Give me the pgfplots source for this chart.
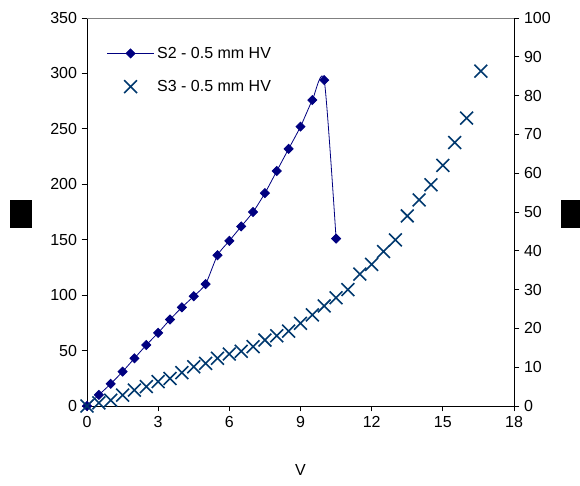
\documentclass[border=0pt]{standalone}
\usepackage{pgfplots}
\pgfplotsset{compat=1.18}
\usepackage{fontspec}
\setmainfont{Liberation Sans}
\definecolor{sTwo}{RGB}{0,0,128}
\definecolor{sThree}{RGB}{0,56,110}
\begin{document}
\begin{tikzpicture}
\pgfplotsset{
  every axis/.append style={
    scale only axis, width=320.25pt, height=291pt,
    xmin=0, xmax=18,
    font=\fontsize{12}{14}\selectfont,
    tick align=outside, major tick length=4pt,
    /pgf/number format/assume math mode=true,
    tick style={black, line width=0.6pt},
    axis line style={black, line width=0.6pt},
  }
}
\begin{axis}[
  axis x line*=bottom, axis y line*=left,
  ymin=0, ymax=350,
  xtick={0,3,...,18}, ytick={0,50,...,350},
  xlabel={V},
  xlabel style={at={(axis description cs:0.5,-0.165)}, anchor=center},
  ylabel={\rule{16.5pt}{21pt}},
  ylabel style={at={(axis description cs:-0.155,0.495)}, anchor=center, rotate=-90},
]
\draw[gray, line width=0.6pt] (rel axis cs:0,1) -- (rel axis cs:1,1);
\addplot[sTwo, line width=0.6pt, smooth, tension=0.4, mark=square*, mark size=2.4pt, mark options={solid, fill=sTwo, rotate=45}] coordinates {
(0,0) (0.5,10) (1,20) (1.5,31) (2,43) (2.5,55) (3,66) (3.5,78) (4,89) (4.5,99) (5,110)
(5.5,136) (6,149) (6.5,162) (7,175) (7.5,192) (8,212) (8.5,232) (9,252) (9.5,276) (10,294) (10.5,151)
};
\end{axis}
\begin{axis}[
  axis x line=none, axis y line*=right,
  ymin=0, ymax=100, ytick={0,10,...,100},
  ylabel={\rule{16.5pt}{21pt}},
  ylabel style={at={(axis description cs:1.136,0.495)}, anchor=center, rotate=-90},
  legend style={draw=none, fill=none, at={(axis description cs:0.036,0.94)}, anchor=north west,
    row sep=11pt, font=\fontsize{12}{14}\selectfont},
  legend cell align=left,
  legend image code/.code={\draw[mark repeat=2, mark phase=2, #1] plot coordinates {(0cm,0cm) (0.62cm,0cm) (1.24cm,0cm)};},
]
\addlegendimage{sTwo, line width=0.6pt, mark=square*, mark size=2.4pt, mark options={solid, fill=sTwo, rotate=45}}
\addlegendentry{S2 - 0.5 mm HV}
\addplot[sThree, only marks, mark=x, mark size=6.8pt, mark options={line width=1.2pt}] coordinates {
(0,0) (0.5,0.8) (1,1.5) (1.5,2.8) (2,4.1) (2.5,5) (3,6.3) (3.5,7.1) (4,8.6) (4.5,10.1) (5,11)
(5.5,12.3) (6,13.4) (6.5,14.1) (7,15.3) (7.5,17) (8,18.1) (8.5,19.3) (9,21.3) (9.5,23.5) (10,25.8)
(10.5,27.9) (11,30) (11.5,34) (12,36.5) (12.5,39.8) (13,42.8) (13.5,49) (14,53.1) (14.5,57)
(15,62) (15.5,67.9) (16,74.2) (16.6,86.3)
};
\addlegendentry{S3 - 0.5 mm HV}
\end{axis}
\pgfresetboundingbox
\path (-65.25pt,-59.25pt) rectangle (369.75pt,304.5pt);
\end{tikzpicture}
\end{document}
